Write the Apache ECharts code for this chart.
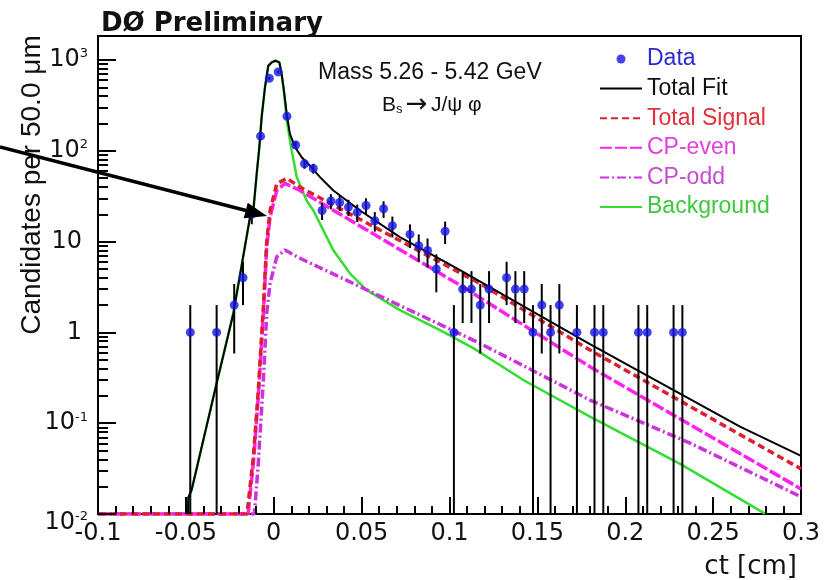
<!DOCTYPE html>
<html>
<head>
<meta charset="utf-8">
<script src="https://cdn.jsdelivr.net/npm/echarts@6/dist/echarts.min.js"></script>
<style>
  html, body { margin: 0; padding: 0; background: #fff; }
  #chart { width: 831px; height: 580px; }
</style>
</head>
<body>
<div id="chart"></div>
<script>
// Proper-decay-length distribution, 50 um bins (bin centres in cm)
const dataCt = [-0.0475, -0.0325, -0.0225, -0.0175, -0.0125, -0.0075, -0.0025, 0.0025, 0.0075, 0.0125,
                0.0175, 0.0225, 0.0275, 0.0325, 0.0375, 0.0425, 0.0475, 0.0525, 0.0575, 0.0625,
                0.0675, 0.0775, 0.0825, 0.0875, 0.0925, 0.0975, 0.1025, 0.1075, 0.1125, 0.1175,
                0.1225, 0.1325, 0.1375, 0.1425, 0.1475, 0.1525, 0.1575, 0.1625, 0.1725, 0.1825,
                0.1875, 0.2075, 0.2125, 0.2275, 0.2325];
const dataN = [1, 1, 2, 4, 20, 145, 630, 740, 240, 116,
               72, 64, 22, 28, 27, 24, 21, 25, 17, 23,
               15, 12, 9, 8, 5, 13, 1, 3, 3, 2,
               3, 4, 3, 3, 1, 2, 1, 2, 1, 1,
               1, 1, 1, 1, 1];

// Total fit
const fitCt = [-0.0488, -0.0486, -0.0467, -0.0334, -0.0230, -0.0135, -0.0116, -0.0097, -0.0082, -0.0069,
               -0.0050, -0.0031, -0.0012, 0.0010, 0.0032, 0.0045, 0.0058, 0.0074, 0.0092, 0.0121,
               0.0159, 0.0206, 0.0263, 0.0339, 0.0415, 0.0491, 0.0718, 0.1060, 0.1799, 0.2653, 0.3000];
const fitN = [0.01, 0.0151, 0.0185, 0.232, 1.62, 18.6, 22.1, 55.9, 110, 234,
              500, 865, 941, 982, 941, 702, 460, 255, 154, 110,
              85, 68.6, 51.3, 36.6, 28.4, 22.0, 11.2, 4.84, 0.744, 0.0918, 0.0437];

// Total signal
const sigCt = [-0.1, -0.0152, -0.0116, -0.0088, -0.0059, -0.0040, -0.0021, 0.0017, 0.0075, 0.0149,
               0.1174, 0.1799, 0.3000];
const sigN = [0.01, 0.01, 0.0427, 0.229, 1.91, 10.2, 21.9, 43.4, 49.7, 39.8,
              3.45, 0.639, 0.0314];

// CP-even component
const evenCt = [-0.1, -0.0146, -0.0116, -0.0088, -0.0059, -0.0040, -0.0021, 0.0017, 0.0064, 0.0149,
                0.1060, 0.1799, 0.3000];
const evenN = [0.01, 0.01, 0.0363, 0.196, 1.62, 8.73, 18.6, 36.6, 43.8, 36.6,
               3.31, 0.419, 0.0189];

// CP-odd component
const oddCt = [-0.1, -0.0110, -0.0088, -0.0059, -0.0040, -0.0021, 0.0017, 0.0064, 0.0149, 0.1174,
               0.1799, 0.2369, 0.3000];
const oddN = [0.01, 0.01, 0.0363, 0.30, 1.62, 3.45, 6.79, 8.1, 6.56, 0.757,
              0.180, 0.0603, 0.0155];

// Background
const bkgCt = [-0.0488, -0.0486, -0.0467, -0.0334, -0.0230, -0.0135, -0.0116, -0.0097, -0.0082, -0.0069,
               -0.0050, -0.0031, -0.0012, 0.0010, 0.0032, 0.0045, 0.0058, 0.0074, 0.0102, 0.0131,
               0.0187, 0.0225, 0.0263, 0.0339, 0.0434, 0.0529, 0.0718, 0.0946, 0.1135, 0.1420,
               0.1799, 0.2312, 0.2795];
const bkgN = [0.01, 0.0151, 0.0185, 0.232, 1.62, 18.6, 22.1, 55.9, 110, 234,
              500, 865, 941, 982, 941, 690, 442, 215, 101, 51.3,
              28.4, 22.1, 15.8, 8.02, 4.45, 2.92, 1.76, 1.06, 0.672, 0.299,
              0.118, 0.0357, 0.0101];

// Axis ranges, tick spacing and decade labels
const xRange = [-0.1, 0.3];
const xStep = 0.05;
const xMinorPerStep = 5;
const yRange = [0.01, 1840];
const yDecades = [-2, -1, 0, 1, 2, 3];

// Plot frame inside the 831 x 580 canvas
const gridBox = { left: 98, top: 36, right: 30, bottom: 65 };
const plotW = 831 - gridBox.left - gridBox.right;
const plotH = 580 - gridBox.top - gridBox.bottom;

const pairs = (xs, ys) => xs.map((x, i) => [x, ys[i]]);

// Poisson error bars, clipped at the bottom of the log axis
const errBars = dataCt.map((x, i) => {
  const n = dataN[i], s = Math.sqrt(n);
  return [x, Math.max(n - s, yRange[0]), n + s];
});

// Inward tick segments in data units (tick lengths given in pixels)
const ctPerPx = (xRange[1] - xRange[0]) / plotW;
const decadesPerPx = Math.log10(yRange[1] / yRange[0]) / plotH;
const tickSegments = [];
yDecades.forEach(k => {
  for (let m = 1; m <= 9; m++) {
    const v = m * Math.pow(10, k);
    if (v < yRange[0] * 0.999 || v > yRange[1]) continue;
    const len = m === 1 ? 18 : 10;
    tickSegments.push({ coords: [[xRange[0], v], [xRange[0] + len * ctPerPx, v]] });
  }
});
const nMinor = Math.round((xRange[1] - xRange[0]) / xStep) * xMinorPerStep;
for (let i = 0; i <= nMinor; i++) {
  const x = +(xRange[0] + i * xStep / xMinorPerStep).toFixed(4);
  const len = i % xMinorPerStep === 0 ? 17 : 8;
  tickSegments.push({ coords: [[x, yRange[0]], [x, yRange[0] * Math.pow(10, len * decadesPerPx)]] });
}

const labelFont = 'DejaVu Sans';
const textFont = 'Liberation Sans';

function yLabel(v) {
  const k = Math.round(Math.log10(v));
  if (Math.abs(Math.log10(v) - k) > 1e-6 || yDecades.indexOf(k) < 0) return '';
  if (k === 0) return '{b|1}{pad|}';
  if (k === 1) return '{b|10}{pad|}';
  if (k === yDecades[0]) return '{gap|}\n{b|10}{e|' + k + '}';
  return '{b|10}{e|' + k + '}';
}

const chart = echarts.init(document.getElementById('chart'), null, { renderer: 'canvas' });

const hideSymbol = { opacity: 0 };

chart.setOption({
  backgroundColor: '#fff',
  animation: false,
  title: {
    text: 'DØ Preliminary',
    left: 96, top: 6,
    textStyle: { fontFamily: labelFont, fontWeight: 'bold', fontSize: 26, color: '#111' }
  },
  grid: {
    left: gridBox.left, top: gridBox.top, right: gridBox.right, bottom: gridBox.bottom,
    show: true, borderColor: '#000', borderWidth: 2
  },
  legend: {
    orient: 'vertical',
    left: 599, top: 47,
    itemWidth: 42, itemHeight: 9, itemGap: 5.6,
    padding: 0,
    textStyle: { fontFamily: textFont, fontSize: 23, lineHeight: 24 },
    data: [
      { name: 'Data', icon: 'circle', textStyle: { color: '#2a2ad0' } },
      { name: 'Total Fit', itemStyle: hideSymbol, textStyle: { color: '#111' } },
      { name: 'Total Signal', itemStyle: hideSymbol, textStyle: { color: '#e0303a' } },
      { name: 'CP-even', itemStyle: hideSymbol, textStyle: { color: '#e040e0' } },
      { name: 'CP-odd', itemStyle: hideSymbol, textStyle: { color: '#c44cd0' } },
      { name: 'Background', itemStyle: hideSymbol, textStyle: { color: '#3ec83e' } }
    ]
  },
  xAxis: {
    type: 'value',
    min: xRange[0], max: xRange[1], interval: xStep,
    name: 'ct [cm]',
    nameLocation: 'end', nameGap: -4,
    nameTextStyle: { fontFamily: labelFont, fontSize: 26, color: '#111', align: 'right', verticalAlign: 'top', padding: [40, 0, 0, 0] },
    axisLine: { show: true, onZero: false, lineStyle: { color: '#000', width: 2 } },
    axisTick: { show: false },
    axisLabel: { fontFamily: labelFont, fontSize: 24, color: '#111', margin: 8 },
    splitLine: { show: false }
  },
  yAxis: {
    type: 'log', logBase: 10,
    min: yRange[0], max: yRange[1],
    axisLine: { show: true, onZero: false, lineStyle: { color: '#000', width: 2 } },
    axisTick: { show: false },
    splitLine: { show: false },
    axisLabel: {
      showMaxLabel: false,
      margin: 10,
      formatter: yLabel,
      rich: {
        b: { fontFamily: labelFont, fontSize: 24, color: '#111' },
        e: { fontFamily: labelFont, fontSize: 13, color: '#111', verticalAlign: 'top', padding: [0, 0, 12, 0] },
        pad: { width: 6 },
        gap: { height: 18 }
      }
    }
  },
  graphic: [
    {
      type: 'text', left: 318, top: 61,
      style: { text: 'Mass 5.26 - 5.42 GeV', fontFamily: textFont, fontSize: 23, fill: '#111' }
    },
    {
      type: 'text', left: 382, top: 92,
      style: {
        text: '{b|B}{s|s} {a|→} {b|J/ψ φ}',
        rich: {
          b: { fontFamily: textFont, fontSize: 21, fill: '#111' },
          s: { fontFamily: textFont, fontSize: 13, fill: '#111', padding: [9, 0, 0, 0] },
          a: { fontFamily: labelFont, fontSize: 26, fill: '#111' }
        }
      }
    },
    {
      type: 'text', x: 32, y: 185, rotation: Math.PI / 2,
      style: { text: 'Candidates per 50.0 μm', fontFamily: textFont, fontSize: 28, fill: '#111', align: 'center', verticalAlign: 'middle' }
    },
    {
      type: 'line',
      shape: { x1: 0, y1: 147, x2: 246, y2: 210.5 },
      style: { stroke: '#000', lineWidth: 3.5 }, z: 20
    },
    {
      type: 'polygon',
      shape: { points: [[267, 216], [243.7, 218.2], [247.7, 202.8]] },
      style: { fill: '#000' }, z: 20
    }
  ],
  series: [
    {
      name: 'Background', type: 'line', data: pairs(bkgCt, bkgN), showSymbol: false, symbol: 'none',
      lineStyle: { color: '#33dd33', width: 2.5 }, itemStyle: { color: '#33dd33' }, z: 6
    },
    {
      name: 'CP-odd', type: 'line', data: pairs(oddCt, oddN), showSymbol: false, symbol: 'none',
      lineStyle: { color: '#cc33dd', width: 3.5, type: [9, 3, 2, 3] }, itemStyle: { color: '#cc33dd' }, z: 7
    },
    {
      name: 'CP-even', type: 'line', data: pairs(evenCt, evenN), showSymbol: false, symbol: 'none',
      lineStyle: { color: '#ff22ee', width: 3.5, type: [12, 3] }, itemStyle: { color: '#ff22ee' }, z: 8
    },
    {
      name: 'Total Signal', type: 'line', data: pairs(sigCt, sigN), showSymbol: false, symbol: 'none',
      lineStyle: { color: '#dd2030', width: 3.5, type: [7, 4] }, itemStyle: { color: '#dd2030' }, z: 9
    },
    {
      name: 'Total Fit', type: 'line', data: pairs(fitCt, fitN), showSymbol: false, symbol: 'none',
      lineStyle: { color: '#000', width: 2 }, itemStyle: { color: '#000' }, z: 10
    },
    {
      name: 'axis ticks', type: 'lines', coordinateSystem: 'cartesian2d',
      silent: true, z: 11, symbol: ['none', 'none'],
      lineStyle: { color: '#000', width: 2, opacity: 1 },
      data: tickSegments
    },
    {
      name: 'errors', type: 'custom', silent: true, z: 11,
      data: errBars,
      renderItem: (params, api) => {
        const a = api.coord([api.value(0), api.value(1)]);
        const b = api.coord([api.value(0), api.value(2)]);
        return { type: 'line', shape: { x1: a[0], y1: a[1], x2: b[0], y2: b[1] }, style: { stroke: '#000', lineWidth: 2 } };
      }
    },
    {
      name: 'Data', type: 'scatter', data: pairs(dataCt, dataN), symbol: 'circle', symbolSize: 9,
      itemStyle: { color: '#1414e6' }, z: 12
    }
  ]
});
</script>
</body>
</html>
